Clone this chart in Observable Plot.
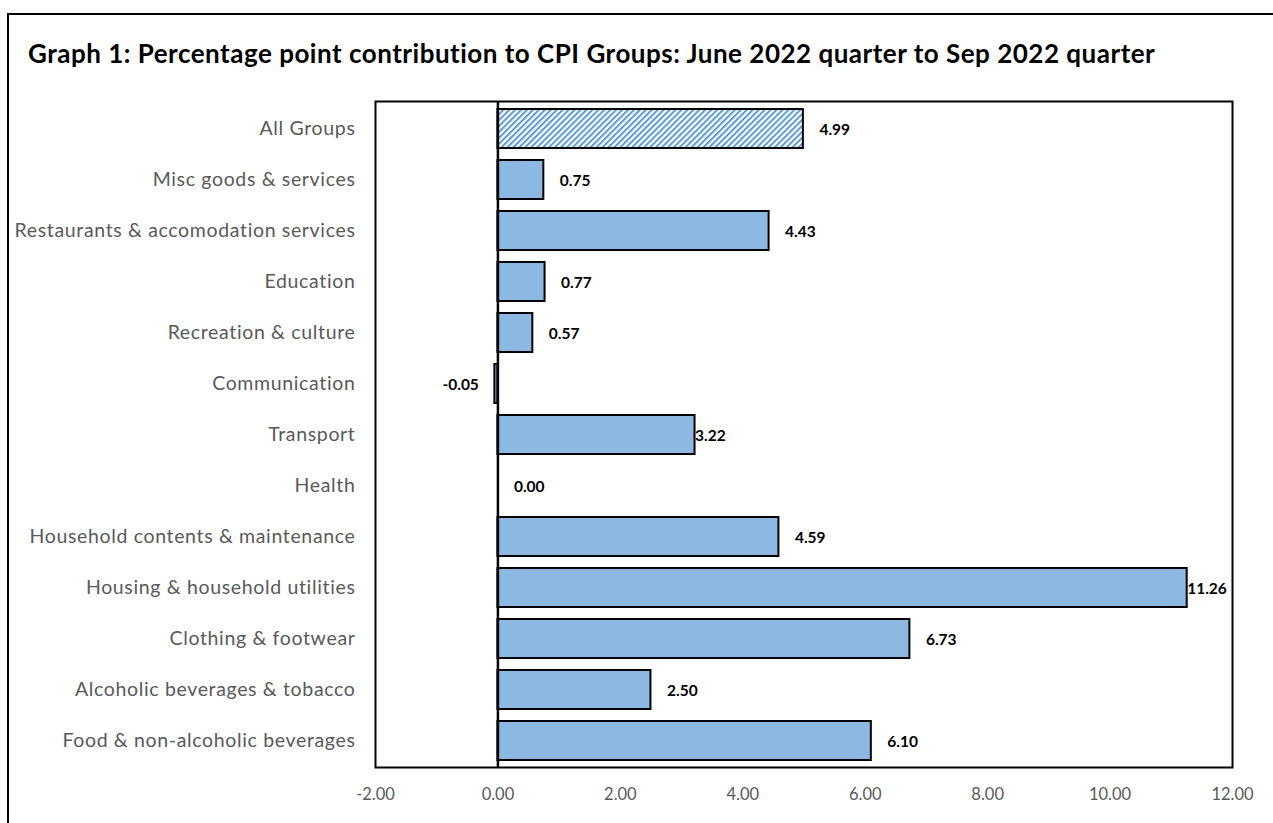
<!DOCTYPE html>
<html><head><meta charset="utf-8">
<script src="https://cdn.jsdelivr.net/npm/d3@7"></script>
<script src="https://cdn.jsdelivr.net/npm/@observablehq/plot@0.6"></script>
<style>
html,body{margin:0;padding:0;background:#fff;overflow:hidden;}
#wrap{position:relative;width:1273px;height:823px;overflow:hidden;}
#frame{position:absolute;left:7px;top:13px;width:1300px;height:850px;border-left:2px solid #000;border-top:2px solid #000;}
#title{position:absolute;left:28px;top:37px;font-family:Lato;font-weight:bold;font-size:26px;line-height:32px;letter-spacing:0.5px;color:#000;white-space:nowrap;}
#chart{position:absolute;left:0;top:0;}
#chart g[aria-label="y-axis tick label"] text{letter-spacing:0.65px;}
</style></head><body>
<div id="wrap"><div id="frame"></div><div id="chart"></div><div id="title">Graph 1: Percentage point contribution to CPI Groups: June 2022 quarter to Sep 2022 quarter</div></div>
<script>
const categories = ["All Groups","Misc goods & services","Restaurants & accomodation services","Education","Recreation & culture","Communication","Transport","Health","Household contents & maintenance","Housing & household utilities","Clothing & footwear","Alcoholic beverages & tobacco","Food & non-alcoholic beverages"];
const values = [4.99,0.75,4.43,0.77,0.57,-0.05,3.22,0.00,4.59,11.26,6.73,2.50,6.10];
const xTicks = [-2,0,2,4,6,8,10,12];
// label placement style: "out" = outside the bar end with a gap, "tight" = right at bar end
const labelStyle = ["out","out","out","out","out","out","tight","out","out","tight","out","out","out"];

const W = 1273, H = 823, mL = 375, mR = 41, mT = 101, mB = 56;
const padIn = 0.24, padOut = 0.12;
const data = categories.map((c,i)=>({category:c, value:values[i], style:labelStyle[i], all:i===0}));
const fmt = d => (+d).toFixed(2);
const lab = {x:"value", y:"category", text:d=>fmt(d.value), fontSize:15.5, fontWeight:"bold", fill:"#000", fontFamily:"Lato", dy:1.5};

const chart = Plot.plot({
  width:W, height:H,
  marginLeft:mL, marginRight:mR, marginTop:mT, marginBottom:mB,
  style:{fontFamily:"Lato", background:"transparent", overflow:"visible"},
  x:{domain:[-2,12], ticks:xTicks, tickFormat:fmt, label:null},
  y:{domain:categories, paddingInner:padIn, paddingOuter:padOut, label:null},
  marks:[
    Plot.barX(data.filter(d=>!d.all), {x:"value", y:"category", fill:"#8DB8E2", stroke:"#000", strokeWidth:2}),
    Plot.barX(data.filter(d=>d.all), {x:"value", y:"category", fill:"url(#hatch)", stroke:"#000", strokeWidth:2}),
    Plot.ruleX([0], {stroke:"#000", strokeWidth:2.5}),
    Plot.frame({stroke:"#000", strokeWidth:2}),
    Plot.axisX({ticks:xTicks, tickFormat:fmt, tickSize:0, tickPadding:21, fontSize:16.5, color:"#595959", label:null}),
    Plot.axisY({tickSize:0, tickPadding:20, fontSize:19.5, color:"#595959", label:null}),
    Plot.text(data.filter(d=>d.value>=0 && d.style==="out"), {...lab, textAnchor:"start", dx:16}),
    Plot.text(data.filter(d=>d.value>=0 && d.style==="tight"), {...lab, textAnchor:"start", dx:0}),
    Plot.text(data.filter(d=>d.value<0), {...lab, textAnchor:"end", dx:-16}),
  ]
});
d3.select(chart).insert("defs", ":first-child").html(
  '<pattern id="hatch" patternUnits="userSpaceOnUse" width="4.2" height="4.2" patternTransform="rotate(45)">' +
  '<rect width="4.2" height="4.2" fill="#fff"/><rect x="0" y="0" width="2" height="4.2" fill="#5B9BD5"/></pattern>');
document.getElementById("chart").appendChild(chart);
</script></body></html>
